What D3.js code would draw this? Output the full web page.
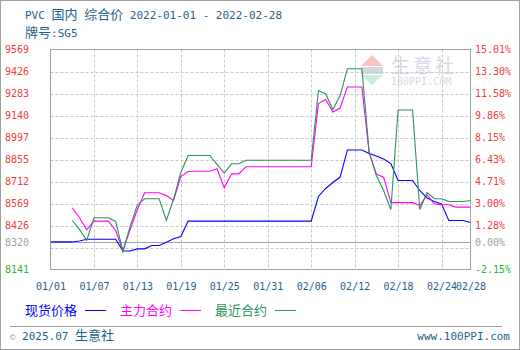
<!DOCTYPE html>
<html>
<head>
<meta charset="utf-8">
<script src="https://cdn.jsdelivr.net/npm/d3@7"></script>
<style>
    body { margin: 0; background: #fff; }
    svg { display: block; }
    text { font-family: "DejaVu Sans Mono", "Noto Sans CJK SC", monospace; }
</style>
</head>
<body>
<svg id="chart" width="520" height="350"></svg>
<script>
// 日期（含周末）
var days = ["01-01","01-02","01-03","01-04","01-05","01-06","01-07","01-08","01-09","01-10",
    "01-11","01-12","01-13","01-14","01-15","01-16","01-17","01-18","01-19","01-20",
    "01-21","01-22","01-23","01-24","01-25","01-26","01-27","01-28","01-29","01-30","01-31",
    "02-01","02-02","02-03","02-04","02-05","02-06","02-07","02-08","02-09","02-10",
    "02-11","02-12","02-13","02-14","02-15","02-16","02-17","02-18","02-19","02-20",
    "02-21","02-22","02-23","02-24","02-25","02-26","02-27","02-28"];

// 现货价格
var spot = [8320,8320,8320,8320,8326,8337,8337,8337,8337,8337,
    8261,8261,8275,8275,8297,8297,8318,8340,8355,8455,
    8455,8455,8455,8455,8455,8455,8455,8455,8455,8455,8455,
    8455,8455,8455,8455,8455,8455,8615,8667,8706,8741,
    8917,8917,8917,8894,8878,8858,8829,8719,8719,8719,
    8654,8605,8582,8567,8459,8459,8459,8446];

// 主力合约
var mainC = [null,null,null,8542,8477,8399,8455,8455,8455,8394,
    8262,8400,8530,8639,8639,8639,8621,8589,8744,8777,
    8779,8779,8779,8795,8671,8762,8762,8808,8808,8808,8808,
    8808,8808,8808,8808,8808,8808,9218,9244,9163,9189,
    9326,9326,9326,8900,8761,8740,8575,8575,8575,8575,
    8556,8625,8567,8561,8561,8546,8546,8546];

// 最近合约
var nearC = [null,null,null,8459,8401,8329,8477,8477,8477,8453,
    8258,8420,8560,8600,8600,8600,8459,8600,8771,8881,
    8881,8881,8881,8823,8766,8827,8827,8850,8850,8850,8850,
    8850,8850,8850,8850,8850,8850,9303,9280,9180,9270,
    9444,9444,9444,8905,8751,8654,8530,9176,9176,9176,
    8530,8641,8600,8600,8582,8582,8582,8589];

var leftTicks = [9569,9426,9283,9140,8997,8855,8712,8569,8426,8320,8141];
var rightTicks = ["15.01%","13.30%","11.58%","9.86%","8.15%","6.43%","4.71%","3.00%","1.28%","0.00%","-2.15%"];
var gridVals = [9426,9283,9140,8997,8855,8712,8569,8426,8283];
var baseVal = 8320;
var xTicks = ["01-01","01-07","01-13","01-19","01-25","01-31","02-06","02-12","02-18","02-24","02-28"];
var legendNames = ["现货价格","主力合约","最近合约"];
var seriesColors = ["#0000ff","#ff00ff","#2e9160"];

var svg = d3.select("#chart");
var L = 50.5, R = 470.5, T = 49.5, B = 269.5;
var blue = "#1f5f8b";

var x = d3.scalePoint().domain(days).range([L, R]);
var y = d3.scaleLinear().domain([8141, 9569]).range([B, T]);

// 外框
svg.append("rect").attr("x", 0.5).attr("y", 0.5).attr("width", 519).attr("height", 349)
    .attr("fill", "none").attr("stroke", "#a0a0a0");

// 标题
var t1 = svg.append("text").attr("x", 25).attr("y", 19).attr("fill", blue).attr("font-size", 11)
    .attr("xml:space", "preserve");
t1.append("tspan").text("PVC ");
t1.append("tspan").attr("font-size", 13).text("国内");
t1.append("tspan").text(" ");
t1.append("tspan").attr("font-size", 13).text("综合价");
t1.append("tspan").text(" 2022-01-01 - 2022-02-28");

var t2 = svg.append("text").attr("x", 25).attr("y", 37).attr("fill", blue).attr("font-size", 11);
t2.append("tspan").attr("font-size", 13).text("牌号");
t2.append("tspan").text(":SG5");

// 水印
var wm = svg.append("g").attr("opacity", 0.6);
wm.append("path").attr("d", "M372,55 L383,66 L361,66 Z").attr("fill", "#f0a098");
wm.append("rect").attr("x", 361).attr("y", 67).attr("width", 22).attr("height", 7).attr("fill", "#b8bcd0");
wm.append("path").attr("d", "M361,75 L383,75 L372,85 Z").attr("fill", "#a8e0b8");
wm.append("text").attr("x", 391).attr("y", 73).attr("font-size", 19).attr("fill", "#b8c0d8")
    .attr("letter-spacing", 3).text("生意社");
wm.append("text").attr("x", 391).attr("y", 85).attr("font-size", 10).attr("fill", "#c0c4cc").text("100PPI.COM");

// 网格
svg.append("g").selectAll("line").data(gridVals).join("line")
    .attr("x1", L).attr("x2", R)
    .attr("y1", d => Math.round(y(d)) + 0.5).attr("y2", d => Math.round(y(d)) + 0.5)
    .attr("stroke", "#c8c8c8").attr("stroke-dasharray", "3,2");
svg.append("g").selectAll("line").data(xTicks.slice(1, -1)).join("line")
    .attr("x1", d => Math.round(x(d)) + 0.5).attr("x2", d => Math.round(x(d)) + 0.5)
    .attr("y1", T).attr("y2", B)
    .attr("stroke", "#c8c8c8").attr("stroke-dasharray", "3,2");

// 基准线
svg.append("line").attr("x1", L).attr("x2", R)
    .attr("y1", Math.round(y(baseVal)) + 0.5).attr("y2", Math.round(y(baseVal)) + 0.5)
    .attr("stroke", "#a0a0a0");

// 数据线
var line = d3.line()
    .defined(d => d != null)
    .x((d, i) => x(days[i]))
    .y(d => y(d));
[spot, mainC, nearC].forEach(function (s, k) {
    svg.append("path").datum(s).attr("d", line)
        .attr("fill", "none").attr("stroke", seriesColors[k]).attr("stroke-width", 1.1);
});

// 图框
svg.append("rect").attr("x", L).attr("y", T).attr("width", R - L).attr("height", B - T)
    .attr("fill", "none").attr("stroke", "#a0a0a0");

function tickColor(d) {
    if (d == baseVal) return "#a0a0a0";
    if (d == 8141) return "#33b233";
    return "#f03c3c";
}

// 左轴
var ax = svg.append("g").attr("transform", "translate(29,0)")
    .call(d3.axisLeft(y).tickValues(leftTicks).tickSize(0).tickPadding(0).tickFormat(d3.format("d")));
ax.select(".domain").remove();
ax.selectAll("text").attr("font-size", 10).attr("font-family", null).attr("fill", tickColor);

// 右轴
var ar = svg.append("g").attr("transform", "translate(475,0)")
    .call(d3.axisRight(y).tickValues(leftTicks).tickSize(0).tickPadding(0)
        .tickFormat((d, i) => rightTicks[i]));
ar.select(".domain").remove();
ar.selectAll("text").attr("font-size", 10).attr("font-family", null).attr("fill", tickColor);

// 横轴
var axb = svg.append("g").attr("transform", "translate(0,280)")
    .call(d3.axisBottom(x).tickValues(xTicks).tickSize(0).tickPadding(3)
        .tickFormat(d => d.replace("-", "/")));
axb.select(".domain").remove();
axb.selectAll("text").attr("font-size", 10).attr("font-family", null).attr("fill", blue);

// 图例
var lg = svg.append("g").selectAll("g").data(legendNames).join("g")
    .attr("transform", (d, i) => "translate(" + (25 + i * 95) + ",0)");
lg.append("text").attr("y", 315).attr("font-size", 13)
    .attr("fill", (d, i) => seriesColors[i]).text(d => d);
lg.append("line").attr("x1", 60).attr("x2", 81).attr("y1", 310.5).attr("y2", 310.5)
    .attr("stroke", (d, i) => seriesColors[i]);

// 底部
svg.append("line").attr("x1", 10).attr("x2", 502).attr("y1", 326.5).attr("y2", 326.5).attr("stroke", "#a0a0a0");
var ft = svg.append("text").attr("x", 10).attr("y", 340).attr("font-size", 11).attr("fill", blue)
    .attr("xml:space", "preserve");
ft.append("tspan").attr("fill", "#9ab").attr("font-size", 9).text("©");
ft.append("tspan").text(" 2025.07 ");
ft.append("tspan").attr("font-size", 13).text("生意社");
svg.append("text").attr("x", 510).attr("y", 340).attr("font-size", 11).attr("fill", blue)
    .attr("text-anchor", "end").text("www.100PPI.com");
</script>
</body>
</html>
